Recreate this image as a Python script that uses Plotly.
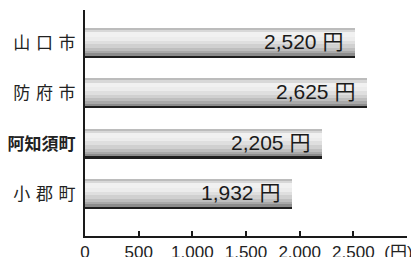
import plotly.graph_objects as go

categories = ["山\u2004口\u2004市", "防\u2004府\u2004市", "<b>阿知須町</b>", "小\u2004郡\u2004町"]
values = [2520, 2625, 2205, 1932]
x_tickvals = [0, 500, 1000, 1500, 2000, 2500, 3000]
x_ticktext = ["0", "500", "1,000", "1,500", "2,000", "2,500", "(円)\u2003"]

positions = list(range(len(categories)))
BAR_W = 0.6

# vertical gradient strips (fraction from top, fraction to bottom, colour)
strips = [
    (0.00, 0.07, "#bcbcbc"),
    (0.07, 0.15, "#d8d8d8"),
    (0.15, 0.30, "#f1f1f1"),
    (0.30, 0.42, "#ececec"),
    (0.42, 0.54, "#dfdfdf"),
    (0.54, 0.66, "#d0d0d0"),
    (0.66, 0.76, "#bebebe"),
    (0.76, 0.86, "#a9a9a9"),
    (0.86, 0.92, "#8c8c8c"),
    (0.92, 1.00, "#1e1e1e"),
]

fig = go.Figure()
for f0, f1, col in strips:
    fig.add_trace(go.Bar(
        x=values, y=positions, orientation="h",
        offset=-BAR_W / 2 + f0 * BAR_W, width=(f1 - f0) * BAR_W,
        marker=dict(color=col, line=dict(width=0)),
        hoverinfo="skip", showlegend=False,
    ))

for v, p in zip(values, positions):
    fig.add_annotation(
        x=v, y=p - 0.03, text=f"{v:,} 円", showarrow=False,
        xanchor="right", yanchor="middle", xshift=-10,
        font=dict(family="Liberation Sans, Arial, Noto Sans CJK JP", size=21, color="#1a1a1a"),
    )

# the page body adds an 8px offset; margins compensate for it
fig.update_layout(
    width=419, height=257,
    margin=dict(l=77, r=20, t=2, b=29, autoexpand=False),
    paper_bgcolor="white", plot_bgcolor="white",
    barmode="overlay", bargap=0,
    xaxis=dict(
        range=[0, 3000], tickvals=x_tickvals, ticktext=x_ticktext,
        showgrid=False, zeroline=False, showline=True, linecolor="#1a1a1a", linewidth=2,
        ticks="inside", ticklen=5, tickwidth=2, tickcolor="#1a1a1a",
        automargin=False, ticklabeloverflow="allow",
        tickfont=dict(family="Liberation Sans, Arial, Noto Sans CJK JP", size=17, color="#222"),
    ),
    yaxis=dict(
        range=[3.834, -0.656], tickvals=positions, ticktext=categories,
        showgrid=False, zeroline=False, showline=True, linecolor="#1a1a1a", linewidth=2,
        ticks="", ticklabelstandoff=4, automargin=False,
        tickfont=dict(family="Noto Sans CJK JP", size=17, color="#222"),
    ),
)

fig.write_html("out.html")
